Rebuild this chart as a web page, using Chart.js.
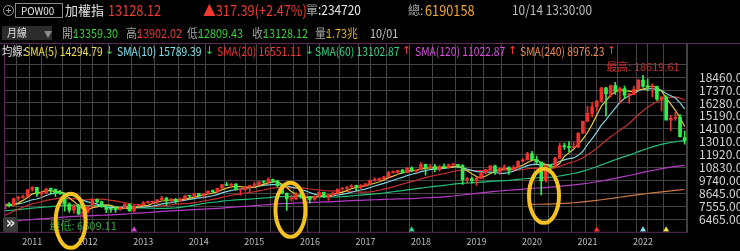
<!DOCTYPE html>
<html>
<head>
<meta charset="utf-8">
<script src="https://cdn.jsdelivr.net/npm/chart.js@4.4.0/dist/chart.umd.min.js"></script>
<style>
  html, body { margin: 0; padding: 0; background: #000; }
  body { width: 740px; height: 251px; position: relative; overflow: hidden; font-family: "Noto Sans CJK TC", "Noto Sans", sans-serif; }
  #wrap { position: absolute; left: 0; top: 0; width: 740px; height: 251px; }
  .t { position: absolute; white-space: nowrap; line-height: 1; transform-origin: 0 0; }
  .r1 { top: 2px; font-size: 15px; transform: scaleX(0.85); }
  .r2 { top: 27px; font-size: 12px; transform: scaleX(0.9); }
  .r3 { top: 45px; font-size: 12px; transform: scaleX(0.86); }
  .ar { position: absolute; top: 45px; font: 11px/1 "DejaVu Sans", sans-serif; }
  .g { color: #a6a6a6; }
  .red { color: #f03a30; }
  .grn { color: #3cd43c; }
  .org { color: #f0a828; }
  #icon { position: absolute; left: 3px; top: 5px; width: 9px; height: 9px; border: 1px solid #9a9a9a; border-radius: 50%; }
  #icon:before { content: ""; position: absolute; left: 2px; top: 4px; width: 5px; height: 1px; background: #9a9a9a; }
  #icon:after { content: ""; position: absolute; left: 4px; top: 2px; width: 1px; height: 5px; background: #9a9a9a; }
  #code { position: absolute; left: 15px; top: 3px; width: 46px; height: 13px; border: 1px solid #8a8a8a; }
  #period { position: absolute; left: 2px; top: 26px; width: 50px; height: 14px; background: #2c2c2c; }
  #more { position: absolute; left: 3px; top: 217px; width: 15px; height: 15px; background: #3a3a3a; border-radius: 2px;
          color: #e8e8e8; font: bold 15px/13px "DejaVu Sans", sans-serif; text-align: center; }
</style>
</head>
<body>
<div id="wrap"><canvas id="kChart"></canvas></div>

<div id="icon"></div>
<div id="code"></div>
<span class="t" style="left:21px;top:5px;font-size:11px;color:#e6e6e6;transform:scaleX(0.9)">POW00</span>
<span class="t" style="left:65px;top:3px;font-size:13px;color:#e2e2e2">加權指</span>
<span class="t r1 red" style="left:108px">13128.12</span>
<span class="t r1 red" style="left:203px">▲317.39(+2.47%)</span>
<span class="t g" style="left:306px;top:4px;font-size:12px">單</span>
<span class="t r1" style="left:318px;font-size:14px;color:#e8e8e8">:234720</span>
<span class="t g" style="left:408px;top:4px;font-size:12px">總:</span>
<span class="t r1 org" style="left:425px">6190158</span>
<span class="t r1" style="left:512px;font-size:14px;color:#bdbdbd">10/14 13:30:00</span>

<div id="period"></div>
<span class="t r2" style="left:7px;font-size:11px;color:#e0e0e0">月線</span>
<span class="t r2" style="left:44px;font-size:9px;top:30px;color:#8c8c8c">▼</span>
<span class="t r2 g" style="left:62px">開:</span><span class="t r2 grn" style="left:73px">13359.30</span>
<span class="t r2 g" style="left:126px">高:</span><span class="t r2 red" style="left:137px">13902.02</span>
<span class="t r2 g" style="left:187px">低:</span><span class="t r2 grn" style="left:198px">12809.43</span>
<span class="t r2 g" style="left:252px">收:</span><span class="t r2 grn" style="left:263px">13128.12</span>
<span class="t r2 g" style="left:315px">量:</span><span class="t r2" style="left:326px;color:#e6b428">1.73兆</span>
<span class="t r2" style="left:370px;color:#c8c8c8">10/01</span>

<span class="t r3" style="left:2px;color:#e0e0e0">均線:</span>
<span class="t r3" style="left:24px;color:#f0e048">SMA(5) 14294.79</span><span class="ar" style="left:105px;color:#2fd84a">↓</span>
<span class="t r3" style="left:117px;color:#80e2ea">SMA(10) 15789.39</span><span class="ar" style="left:205px;color:#2fd84a">↓</span>
<span class="t r3" style="left:217px;color:#f03a3a">SMA(20) 16551.11</span><span class="ar" style="left:305px;color:#2fd84a">↓</span>
<span class="t r3" style="left:315px;color:#2ad68a">SMA(60) 13102.87</span><span class="ar" style="left:402px;color:#f03a3a">↑</span>
<span class="t r3" style="left:415px;color:#e04ee4">SMA(120) 11022.87</span><span class="ar" style="left:508px;color:#f03a3a">↑</span>
<span class="t r3" style="left:520px;color:#f08a4c">SMA(240) 8976.23</span><span class="ar" style="left:607px;color:#f03a3a">↑</span>

<div id="more">»</div>

<script>
// monthly candles, first bar = 2010/07
const startMonth = [2010, 7];

const opens = [
  7340, 7770, 7630, 8250, 8300, 8380,
  8990, 9150, 8610, 8700, 9010, 8990, 8660, 8640, 7750, 7230, 7590, 6910,
  7080, 7520, 8130, 7930, 7500, 7300, 7300, 7270, 7400, 7720, 7170, 7580,
  7700, 7860, 7900, 7920, 8100, 8260, 8060, 8110, 7980, 8180, 8450, 8410,
  8620, 8460, 8640, 8850, 8790, 9080, 9400, 9310, 9440, 8960, 8980, 9190,
  9310, 9360, 9620, 9590, 9820, 9700, 9320, 8660, 8180, 8180, 8550, 8320,
  8340, 8140, 8410, 8740, 8380, 8540, 8670, 9010, 9070, 9170, 9290, 9240,
  9260, 9450, 9750, 9810, 9880, 10040, 10400, 10430, 10590, 10390, 10800, 10560,
  10650, 11100, 10820, 10920, 10660, 10880, 10840, 11060, 11070, 11000, 9800, 9890,
  9730, 9930, 10390, 10640, 10970, 10500, 10730, 10820, 10620, 10830, 11360, 11490,
  12000, 11500, 11290, 9710, 11000, 10950, 11620, 12670, 12600, 12520, 12550, 13730,
  14740, 15400, 15960, 16440, 17570, 17070, 17760, 17250, 17500, 16940, 16990, 17430,
  18220, 17680, 17650, 17690, 16590, 16810, 14830, 15000, 15100, 13359.30
];
const highs = [
  7800, 7880, 8250, 8390, 8500, 8990,
  9220, 9160, 8780, 9100, 9090, 9010, 8900, 8650, 7850, 7700, 7730, 7160,
  7570, 8170, 8170, 7990, 7560, 7390, 7480, 7540, 7790, 7760, 7630, 7720,
  7950, 7990, 7990, 8100, 8400, 8320, 8200, 8230, 8250, 8480, 8470, 8650,
  8660, 8660, 8870, 8950, 9100, 9400, 9570, 9470, 9470, 9000, 9210, 9330,
  9600, 9640, 9710, 9970, 9850, 9750, 9370, 8700, 8520, 8710, 8690, 8450,
  8370, 8440, 8800, 8760, 8570, 8740, 9010, 9140, 9250, 9400, 9340, 9400,
  9470, 9770, 9990, 9950, 10100, 10510, 10530, 10600, 10670, 10800, 10880, 10640,
  11270, 11120, 11100, 11100, 11000, 11150, 11120, 11170, 11090, 11070, 10000, 10020,
  10020, 10410, 10670, 11000, 11030, 10800, 11050, 10900, 10990, 11400, 11600, 12120,
  12200, 11800, 11300, 11020, 11100, 11700, 12900, 12890, 13030, 12930, 13780, 14750,
  16000, 16300, 16480, 17600, 17600, 17790, 18030, 17600, 17700, 17100, 17700, 18250,
  18619.61, 18300, 17900, 17700, 16800, 16900, 15230, 15500, 15300, 13902.02
];
const lows = [
  7300, 7510, 7620, 8050, 8230, 8370,
  8840, 8380, 8220, 8600, 8620, 8380, 8550, 7150, 7040, 6980, 6850, 6609.11,
  7000, 7500, 7850, 7480, 7010, 7040, 7030, 7230, 7380, 7150, 7080, 7560,
  7630, 7810, 7800, 7710, 8090, 7640, 7900, 7800, 7950, 8150, 8180, 8300,
  8400, 8230, 8580, 8720, 8700, 9060, 9300, 9110, 8920, 8500, 8880, 8770,
  9170, 9350, 9490, 9520, 9570, 9200, 8600, 7203, 7980, 8120, 8230, 8160,
  7810, 8060, 8360, 8300, 8050, 8370, 8570, 8990, 8970, 9150, 8880, 9050,
  9230, 9410, 9650, 9660, 9820, 10010, 10360, 10230, 10370, 10370, 10480, 10420,
  10630, 10190, 10770, 10450, 10520, 10750, 10780, 10920, 10800, 9400, 9490, 9530,
  9320, 9900, 10300, 10600, 10250, 10250, 10690, 10250, 10600, 10800, 11300, 11460,
  11480, 11180, 8523, 9600, 10560, 10880, 11600, 12350, 12130, 12500, 12500, 13700,
  14700, 15100, 15600, 16400, 15160, 16800, 17000, 16250, 16660, 16250, 16960, 17380,
  17600, 17300, 16800, 16500, 15620, 14880, 13930, 14800, 13400, 12809.43
];
const closes = [
  7760, 7616, 8238, 8287, 8372, 8972,
  9145, 8599, 8683, 9007, 8988, 8652, 8644, 7741, 7225, 7587, 6904, 7072,
  7517, 8121, 7933, 7501, 7301, 7296, 7270, 7398, 7715, 7166, 7580, 7699,
  7850, 7907, 7919, 8093, 8254, 8062, 8108, 7978, 8173, 8450, 8407, 8611,
  8462, 8639, 8849, 8791, 9075, 9393, 9315, 9436, 8966, 8974, 9187, 9307,
  9361, 9622, 9586, 9820, 9701, 9323, 8665, 8175, 8181, 8554, 8320, 8338,
  8145, 8411, 8744, 8377, 8535, 8667, 9007, 9069, 9166, 9290, 9240, 9254,
  9448, 9750, 9811, 9872, 10040, 10395, 10427, 10585, 10384, 10794, 10560, 10643,
  11104, 10815, 10919, 10657, 10875, 10837, 11057, 11064, 11006, 9802, 9888, 9727,
  9932, 10389, 10641, 10968, 10498, 10731, 10824, 10618, 10829, 11358, 11489, 11997,
  11495, 11292, 9708, 10992, 10943, 11621, 12665, 12592, 12516, 12546, 13723, 14733,
  15410, 15953, 16431, 17567, 17068, 17755, 17247, 17490, 16935, 16987, 17428, 18219,
  17674, 17652, 17693, 16593, 16807, 14826, 15000, 15095, 13425, 13128.12
];

// moving average lines
const sma5 = [
  7677, 7617, 7663, 7846, 8055, 8297,
  8603, 8675, 8754, 8881, 8884, 8786, 8795, 8606, 8250, 7970, 7620, 7306,
  7261, 7440, 7509, 7629, 7675, 7630, 7460, 7353, 7396, 7369, 7426, 7512,
  7602, 7640, 7791, 7894, 8005, 8047, 8087, 8099, 8115, 8154, 8223, 8324,
  8421, 8514, 8594, 8670, 8763, 8949, 9085, 9202, 9237, 9217, 9176, 9174,
  9159, 9290, 9413, 9539, 9618, 9610, 9419, 9137, 8809, 8580, 8379, 8314,
  8308, 8354, 8392, 8403, 8442, 8547, 8666, 8731, 8889, 9040, 9154, 9204,
  9280, 9396, 9501, 9627, 9784, 9974, 10109, 10264, 10366, 10517, 10550, 10593,
  10697, 10783, 10808, 10828, 10874, 10821, 10869, 10898, 10968, 10753, 10563, 10297,
  10071, 9948, 10115, 10331, 10486, 10645, 10732, 10728, 10700, 10872, 11024, 11258,
  11434, 11526, 11196, 11097, 10886, 10911, 11186, 11763, 12067, 12388, 12808, 13222,
  13786, 14473, 15250, 16019, 16486, 16955, 17214, 17425, 17299, 17283, 17217, 17412,
  17449, 17592, 17733, 17566, 17284, 16714, 16184, 15664, 15031, 14295
];
const sma10 = [
  7657, 7685, 7751, 7760, 7834, 7987,
  8110, 8169, 8300, 8468, 8591, 8694, 8735, 8680, 8566, 8427, 8203, 8050,
  7934, 7845, 7740, 7625, 7490, 7446, 7450, 7431, 7512, 7522, 7528, 7486,
  7478, 7518, 7580, 7660, 7758, 7825, 7864, 7945, 8004, 8079, 8135, 8206,
  8260, 8314, 8374, 8447, 8544, 8685, 8799, 8898, 8954, 8990, 9063, 9129,
  9181, 9264, 9315, 9357, 9396, 9385, 9355, 9275, 9174, 9099, 8995, 8866,
  8722, 8581, 8486, 8391, 8378, 8427, 8510, 8561, 8646, 8741, 8851, 8935,
  9005, 9143, 9270, 9391, 9494, 9627, 9753, 9882, 9997, 10151, 10262, 10351,
  10480, 10575, 10663, 10689, 10734, 10759, 10826, 10853, 10898, 10814, 10692, 10583,
  10485, 10458, 10434, 10447, 10392, 10358, 10340, 10422, 10516, 10679, 10835, 10995,
  11081, 11113, 11034, 11060, 11072, 11172, 11356, 11479, 11582, 11637, 11860, 12204,
  12774, 13270, 13819, 14414, 14854, 15370, 15843, 16338, 16659, 16884, 17086, 17313,
  17437, 17446, 17508, 17392, 17348, 17081, 16888, 16699, 16298, 15789
];
const sma20 = [
  6791, 6943, 7142, 7329, 7487, 7636,
  7748, 7857, 7941, 8050, 8124, 8190, 8243, 8220, 8200, 8207, 8156, 8110,
  8117, 8157, 8165, 8159, 8113, 8063, 8008, 7929, 7858, 7786, 7731, 7666,
  7609, 7571, 7535, 7553, 7604, 7628, 7688, 7733, 7766, 7783, 7806, 7862,
  7920, 7987, 8066, 8136, 8204, 8315, 8402, 8489, 8544, 8598, 8661, 8722,
  8777, 8855, 8929, 9021, 9098, 9141, 9154, 9132, 9118, 9114, 9088, 9065,
  9018, 8969, 8941, 8888, 8866, 8851, 8842, 8830, 8820, 8804, 8786, 8758,
  8745, 8767, 8824, 8909, 9002, 9094, 9199, 9312, 9424, 9543, 9634, 9747,
  9875, 9983, 10078, 10158, 10243, 10321, 10411, 10502, 10580, 10582, 10586, 10579,
  10574, 10573, 10584, 10603, 10609, 10606, 10619, 10618, 10604, 10631, 10660, 10727,
  10758, 10780, 10713, 10709, 10706, 10797, 10936, 11079, 11208, 11316, 11470, 11659,
  11904, 12165, 12446, 12793, 13105, 13425, 13713, 13987, 14259, 14544, 14930, 15291,
  15628, 15930, 16181, 16381, 16596, 16710, 16773, 16792, 16692, 16551
];
const sma60 = [
  7175, 7202, 7237, 7279, 7315, 7356,
  7399, 7433, 7468, 7498, 7534, 7567, 7603, 7622, 7628, 7637, 7631, 7619,
  7616, 7619, 7620, 7614, 7600, 7573, 7540, 7513, 7485, 7443, 7426, 7412,
  7418, 7409, 7399, 7385, 7379, 7388, 7406, 7421, 7462, 7522, 7588, 7655,
  7725, 7793, 7854, 7900, 7937, 7986, 8025, 8068, 8092, 8120, 8146, 8165,
  8194, 8230, 8258, 8288, 8327, 8360, 8375, 8385, 8384, 8388, 8387, 8377,
  8360, 8357, 8358, 8347, 8340, 8340, 8346, 8368, 8401, 8429, 8468, 8504,
  8536, 8564, 8595, 8634, 8680, 8732, 8784, 8837, 8882, 8942, 8992, 9041,
  9095, 9144, 9194, 9237, 9280, 9326, 9376, 9427, 9474, 9497, 9521, 9540,
  9565, 9594, 9624, 9660, 9684, 9706, 9731, 9751, 9782, 9822, 9860, 9905,
  9940, 9968, 9970, 9990, 10010, 10049, 10115, 10189, 10261, 10328, 10418, 10524,
  10646, 10771, 10899, 11052, 11195, 11346, 11484, 11624, 11753, 11882, 12018, 12168,
  12305, 12436, 12568, 12680, 12792, 12866, 12943, 13018, 13068, 13103
];
const sma120 = [
  6312, 6312, 6329, 6352, 6378, 6413,
  6440, 6465, 6489, 6519, 6553, 6584, 6620, 6646, 6676, 6707, 6727, 6740,
  6753, 6774, 6789, 6801, 6815, 6832, 6852, 6874, 6903, 6925, 6950, 6977,
  7001, 7030, 7060, 7093, 7124, 7150, 7173, 7193, 7214, 7234, 7256, 7279,
  7296, 7312, 7331, 7354, 7379, 7409, 7442, 7472, 7498, 7525, 7553, 7580,
  7608, 7636, 7666, 7699, 7730, 7756, 7775, 7793, 7810, 7834, 7851, 7866,
  7880, 7895, 7913, 7923, 7937, 7953, 7975, 7995, 8014, 8033, 8050, 8061,
  8076, 8091, 8107, 8124, 8140, 8153, 8162, 8175, 8183, 8192, 8209, 8227,
  8257, 8277, 8296, 8311, 8329, 8357, 8391, 8424, 8468, 8509, 8555, 8597,
  8645, 8693, 8739, 8780, 8810, 8846, 8878, 8909, 8937, 8971, 9003, 9035,
  9067, 9099, 9114, 9139, 9169, 9204, 9245, 9287, 9322, 9358, 9403, 9451,
  9503, 9564, 9629, 9700, 9767, 9843, 9915, 9996, 10077, 10155, 10243, 10336,
  10421, 10500, 10581, 10657, 10736, 10799, 10863, 10928, 10975, 11023
];
// 240-month line only starts at 2019/12
const sma240Start = '2019/12';
const sma240 = [
  7713,
  7720, 7728, 7727, 7736, 7744, 7758, 7779, 7800, 7826, 7855, 7890, 7932,
  7971, 8014, 8059, 8109, 8160, 8214, 8267, 8321, 8376, 8431, 8485, 8538,
  8587, 8637, 8685, 8729, 8775, 8816, 8858, 8901, 8939, 8976
];

// deduction markers under the bars (SMA120, 60, 20, 10, 5)
const markMonths = ['2012/11', '2017/11', '2021/03', '2022/01', '2022/06'];
const markColors = ['#e040e0', '#2ad68a', '#f03030', '#80e8f0', '#f0e040'];

// circled spots
const ringMonths = [14.3, 61.8, 116.6];
const ringValues = [6330, 7258, 8439];

const yearTicks = ['2011', '2012', '2013', '2014', '2015', '2016', '2017', '2018', '2019', '2020', '2021', '2022'];
const yTicks = [6465, 7555, 8645, 9740, 10830, 11920, 13010, 14100, 15190, 16280, 17370, 18460, 19550];
const yTickText = ['6465.00', '7555.00', '8645.00', '9740.00', '10830.0', '11920.0', '13010.0', '14100.0',
                   '15190.0', '16280.0', '17370.0', '18460.0', ''];

const months = closes.map((c, i) => {
  const m = startMonth[1] - 1 + i;
  return (startMonth[0] + Math.floor(m / 12)) + '/' + String(m % 12 + 1).padStart(2, '0');
});
const janIdx = yearTicks.map(y => months.indexOf(y + '/01'));
const gridIdx = months.map((m, i) => i).filter(i => i % 5 === 0 || janIdx.includes(i));

const FONT = '"Noto Sans CJK TC", "Noto Sans", sans-serif';
const upColor = '#f0302c';
const downColor = '#30ee50';
const candleColors = closes.map((c, i) => c >= opens[i] ? upColor : downColor);

function lineSet(label, values, color, from) {
  const off = from || 0;
  return {
    type: 'line', label: label,
    data: values.map((v, i) => ({x: i + off, y: v})),
    borderColor: color, borderWidth: 1.2, pointRadius: 0, fill: false, tension: 0, order: 3
  };
}

const decor = {
  id: 'decor',
  afterDatasetsDraw(chart) {
    const {ctx, chartArea: a, scales: {x, y}} = chart;
    ctx.save();
    // frame
    ctx.strokeStyle = '#5e2a58';
    ctx.lineWidth = 1;
    ctx.beginPath();
    ctx.moveTo(0, a.top + 0.5); ctx.lineTo(740, a.top + 0.5);
    ctx.moveTo(a.left + 0.5, a.top); ctx.lineTo(a.left + 0.5, a.bottom);
    ctx.moveTo(a.right - 0.5, a.top); ctx.lineTo(a.right - 0.5, a.bottom);
    ctx.moveTo(0, a.bottom - 0.5); ctx.lineTo(a.right, a.bottom - 0.5);
    ctx.stroke();
    // high / low labels
    const hi = highs.indexOf(Math.max(...highs));
    const lo = lows.indexOf(Math.min(...lows));
    ctx.font = '11px ' + FONT;
    ctx.textAlign = 'center';
    ctx.textBaseline = 'middle';
    ctx.fillStyle = '#c8302c';
    ctx.fillText('最高: ' + highs[hi].toFixed(2), x.getPixelForValue(hi), y.getPixelForValue(highs[hi]) - 8);
    ctx.fillStyle = '#2fa83a';
    ctx.fillText('最低: ' + lows[lo].toFixed(2), x.getPixelForValue(lo), y.getPixelForValue(lows[lo]) + 8);
    ctx.restore();
  },
  afterDraw(chart) {
    const {ctx, scales: {x, y}} = chart;
    ctx.save();
    ctx.strokeStyle = '#f6c222';
    ctx.lineWidth = 4;
    ringMonths.forEach((m, k) => {
      ctx.beginPath();
      ctx.ellipse(x.getPixelForValue(m), y.getPixelForValue(ringValues[k]), 15, 27, 0, 0, Math.PI * 2);
      ctx.stroke();
    });
    ctx.restore();
  }
};

new Chart(document.getElementById('kChart'), {
  type: 'bar',
  data: {
    datasets: [
      {
        type: 'bar', label: 'wick',
        data: highs.map((h, i) => ({x: i, y: [lows[i], h]})),
        backgroundColor: candleColors, barThickness: 1, grouped: false, order: 2
      },
      {
        type: 'bar', label: 'body',
        data: opens.map((o, i) => ({x: i, y: [o, closes[i]]})),
        backgroundColor: candleColors, barThickness: 3, minBarLength: 1, grouped: false, order: 1
      },
      lineSet('SMA(5)', sma5, '#e8cc3c'),
      lineSet('SMA(10)', sma10, '#7fd6de'),
      lineSet('SMA(20)', sma20, '#c83030'),
      lineSet('SMA(60)', sma60, '#22c078'),
      lineSet('SMA(120)', sma120, '#b43cc4'),
      lineSet('SMA(240)', sma240, '#c87846', months.indexOf(sma240Start)),
      {
        type: 'line', label: 'marks', showLine: false,
        data: markMonths.map(m => ({x: months.indexOf(m), y: 5571})),
        pointStyle: 'triangle', pointRadius: 3.5, pointBorderWidth: 0,
        pointBackgroundColor: markColors, order: 0
      }
    ]
  },
  options: {
    responsive: true,
    maintainAspectRatio: false,
    animation: false,
    events: [],
    layout: { padding: { top: 43, left: 0, right: 0, bottom: 0 } },
    plugins: { legend: { display: false }, tooltip: { enabled: false } },
    scales: {
      x: {
        type: 'linear', min: -0.11, max: 147.72, offset: false,
        afterBuildTicks: s => { s.ticks = gridIdx.map(v => ({value: v})); },
        afterFit: s => { s.height = 18; },
        ticks: {
          autoSkip: false, maxRotation: 0, color: '#bdbdbd', padding: 3,
          font: { size: 9, family: FONT },
          callback: v => { const k = janIdx.indexOf(v); return k >= 0 ? yearTicks[k] : ''; }
        },
        grid: { color: '#444', drawTicks: false },
        border: { display: false }
      },
      y: {
        position: 'right', min: 5318, max: 21345,
        afterBuildTicks: s => { s.ticks = yTicks.map(v => ({value: v})); },
        afterFit: s => { s.width = 52; },
        ticks: {
          autoSkip: false, color: '#d6d6d6', padding: 11, font: { size: 12, family: FONT },
          callback: v => yTickText[yTicks.indexOf(v)]
        },
        grid: { color: '#444', drawTicks: false },
        border: { display: false }
      }
    }
  },
  plugins: [decor]
});
</script>
</body>
</html>
